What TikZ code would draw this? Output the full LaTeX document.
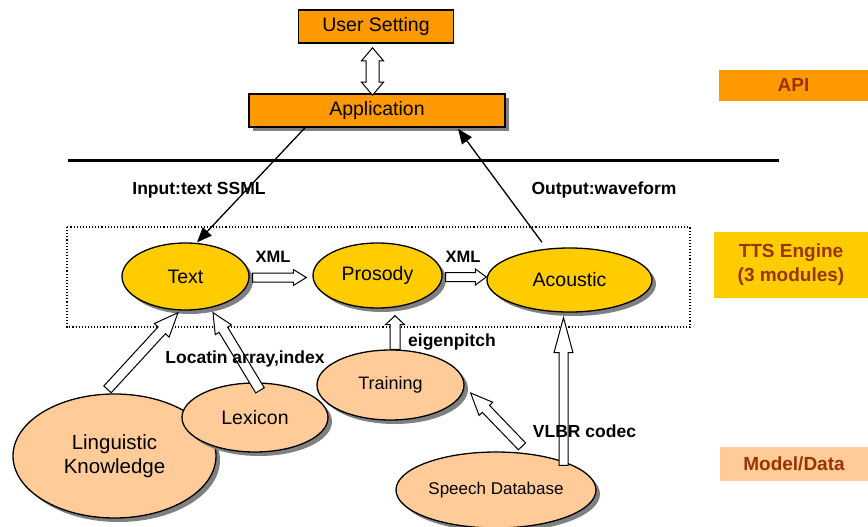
\documentclass[tikz,border=0pt]{standalone}
\usepackage{fontspec}
\setmainfont{Liberation Sans}
\usetikzlibrary{shapes.geometric,shadows,calc,arrows.meta}
\definecolor{orangeA}{HTML}{FF9900}
\definecolor{yellowA}{HTML}{FFCC00}
\definecolor{peachA}{HTML}{FFCC99}
\definecolor{brownA}{HTML}{993300}
% hollow block arrow: from, to, half shaft, half head, head length
\newcommand{\hollowarr}[5]{%
  \coordinate (hc) at ($(#2)!#5!(#1)$);
  \draw[harr] ($(#1)!#3!90:(#2)$) -- ($(hc)!#3!-90:(#1)$) -- ($(hc)!#4!-90:(#1)$) -- (#2)
    -- ($(hc)!#4!90:(#1)$) -- ($(hc)!#3!90:(#1)$) -- ($(#1)!#3!-90:(#2)$) -- cycle;}
% hollow double block arrow
\newcommand{\hollowdarr}[5]{%
  \coordinate (hca) at ($(#1)!#5!(#2)$);
  \coordinate (hcb) at ($(#2)!#5!(#1)$);
  \draw[harr] (#1) -- ($(hca)!#4!90:(#2)$) -- ($(hca)!#3!90:(#2)$) -- ($(hcb)!#3!-90:(#1)$)
    -- ($(hcb)!#4!-90:(#1)$) -- (#2) -- ($(hcb)!#4!90:(#1)$) -- ($(hcb)!#3!90:(#1)$)
    -- ($(hca)!#3!-90:(#2)$) -- ($(hca)!#4!-90:(#2)$) -- cycle;}
\tikzset{
  shadowed/.style={drop shadow={shadow xshift=4pt, shadow yshift=-4pt, fill=black!50, opacity=1}},
  box/.style={draw, line width=1.6pt, fill=orangeA, inner sep=0pt, font=\fontsize{19.5}{22}\selectfont},
  ell/.style={ellipse, draw, line width=1.3pt, inner sep=0pt, align=center, shadowed},
  harr/.style={draw, fill=white, line width=1pt, line join=miter},
  lbl/.style={font=\bfseries\fontsize{17.5}{20}\selectfont, inner sep=0pt},
  sidebox/.style={inner sep=0pt, align=center, text=brownA, font=\bfseries\fontsize{19}{24}\selectfont},
  conn/.style={line width=1.3pt, -{Triangle[length=15pt,width=12pt]}}
}
\begin{document}
\begin{tikzpicture}[x=1pt,y=-1pt]
\useasboundingbox (0,0) rectangle (868,527);
% frame of the engine and separator
\draw[dotted, line width=1.1pt] (67,227) rectangle (690,327);
\draw[line width=3pt] (68,160) -- (779,160);
% side labels
\node[sidebox, fill=orangeA, minimum width=149pt, minimum height=30.5pt] (api) at (793.5,85.3) {API};
\node[sidebox, fill=yellowA, minimum width=154pt, minimum height=66pt] (tts) at (791,265) {TTS Engine\\(3 modules)};
\node[sidebox, fill=peachA, minimum width=148pt, minimum height=34pt] (md) at (794,464) {Model/Data};
% boxes
\node[box, minimum width=155pt, minimum height=33pt] (user) at (376,26.5) {User Setting};
\node[box, shadowed, minimum width=256pt, minimum height=33pt] (app) at (377,110.5) {Application};
% engine modules
\node[ell, fill=yellowA, minimum width=127pt, minimum height=67pt, font=\fontsize{19.5}{22}\selectfont] (text) at (185.5,276.5) {Text};
\node[ell, fill=yellowA, minimum width=129pt, minimum height=65pt, font=\fontsize{19.5}{22}\selectfont] (pros) at (377.5,275.5) {Prosody};
\node[ell, fill=yellowA, minimum width=165pt, minimum height=64pt, font=\fontsize{19.5}{22}\selectfont] (ac) at (569.5,280) {Acoustic};
% data
\node[ell, fill=peachA, minimum width=203pt, minimum height=124pt, font=\fontsize{20.5}{24}\selectfont] (lk) at (114.5,456) {Linguistic\\Knowledge};
\node[ell, fill=peachA, minimum width=146pt, minimum height=69pt, font=\fontsize{19.5}{22}\selectfont] (lex) at (255,417.5) {Lexicon};
\node[ell, fill=peachA, minimum width=147pt, minimum height=70pt, font=\fontsize{18}{22}\selectfont] (train) at (390.5,385) {Training};
\node[ell, fill=peachA, minimum width=200pt, minimum height=76pt, font=\fontsize{17}{20}\selectfont] (sdb) at (496,490) {Speech Database};
% double arrow
\coordinate (da1) at ($(user.south)+(-3.5,4)$);
\coordinate (da2) at ($(app.north)+(-4.5,2)$);
\hollowdarr{da1}{da2}{6.5pt}{11pt}{13pt}
% input / output
\draw[conn] ($(app.south)+(-72,0)$) -- ($(text.north)+(11.5,0)$);
\draw[conn] ($(ac.north)+(-27.5,-5)$) -- ($(app.south)+(81,1)$);
\node[lbl] (lin) at (199,190) {Input:text SSML};
\node[lbl] (lout) at (604,190) {Output:waveform};
% XML arrows
\coordinate (x1s) at ($(text.east)+(3,1)$);
\coordinate (x1t) at ($(pros.west |- x1s)+(-6,0)$);
\hollowarr{x1s}{x1t}{4.5pt}{8pt}{13pt}
\coordinate (x2s) at ($(pros.east)+(3,1.5)$);
\coordinate (x2t) at (ac.west |- x2s);
\hollowarr{x2s}{x2t}{4.5pt}{8pt}{11pt}
\node[lbl, font=\bfseries\fontsize{16.5}{19}\selectfont] (xml1) at (273,257) {XML};
\node[lbl, font=\bfseries\fontsize{16.5}{19}\selectfont] (xml2) at (463,257) {XML};
% data arrows
\coordinate (lks) at ($(lk.north)+(-7,-4)$);
\coordinate (lkt) at ($(text.south)+(-7.5,2)$);
\hollowarr{lks}{lkt}{5pt}{10pt}{24pt}
\coordinate (lxs) at ($(lex.north)+(5,8)$);
\coordinate (lxt) at ($(text.south)+(27.5,2)$);
\hollowarr{lxs}{lxt}{5pt}{9.5pt}{20pt}
\coordinate (eps) at ($(train.north)+(4.5,0)$);
\coordinate (ept) at ($(pros.south)+(17.5,7)$);
\hollowarr{eps}{ept}{5pt}{9.5pt}{9pt}
\coordinate (sds) at ($(sdb.north)+(26,-5)$);
\coordinate (sdt) at ($(train.east)+(6,8)$);
\hollowarr{sds}{sdt}{5pt}{9.5pt}{22pt}
\coordinate (vls) at ($(sdb.north)+(67.5,14)$);
\coordinate (vlt) at ($(ac.south)+(-6,5)$);
\hollowarr{vls}{vlt}{4.5pt}{9.5pt}{35pt}
\node[lbl, anchor=west] (lep) at (408,342) {eigenpitch};
\node[lbl] (lloc) at (245,359) {Locatin array,index};
\node[lbl] (lvl) at (584.5,431) {VLBR codec};
\end{tikzpicture}
\end{document}
